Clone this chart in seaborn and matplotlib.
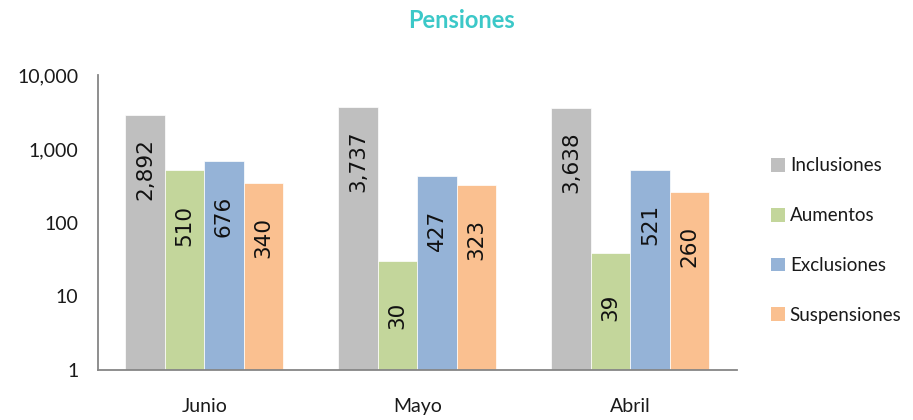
import pandas as pd
import numpy as np
import matplotlib
matplotlib.use('Agg')
import matplotlib.pyplot as plt
import seaborn as sns
from matplotlib.ticker import FuncFormatter, FixedLocator, NullLocator

# Data
meses = ['Junio', 'Mayo', 'Abril']
series = ['Inclusiones', 'Aumentos', 'Exclusiones', 'Suspensiones']
inclusiones = [2892, 3737, 3638]
aumentos = [510, 30, 39]
exclusiones = [676, 427, 521]
suspensiones = [340, 323, 260]
y_ticks = [1, 10, 100, 1000, 10000]

colores = ['#BFBFBF', '#C3D69B', '#95B3D7', '#FAC090']

df = pd.DataFrame({
    'mes': np.repeat(meses, len(series)),
    'tipo': series * len(meses),
    'valor': np.array([inclusiones, aumentos, exclusiones, suspensiones]).T.ravel(),
})

sns.set_style('white')
plt.rcParams['font.family'] = ['Lato', 'DejaVu Sans']

fig = plt.figure(figsize=(9.13, 4.2), dpi=100)
ax = fig.add_axes([0.107, 0.119, 0.700, 0.702])

sns.barplot(data=df, x='mes', y='valor', hue='tipo', order=meses, hue_order=series,
            palette=colores, saturation=1, width=0.74, ax=ax, legend=False,
            edgecolor='white', linewidth=0.5)

ax.set_yscale('log')
ax.set_ylim(1, 10000)
ax.yaxis.set_major_locator(FixedLocator(y_ticks))
ax.yaxis.set_minor_locator(NullLocator())
ax.yaxis.set_major_formatter(FuncFormatter(lambda v, i: f'{v:,.0f}'))
ax.set_xlim(-0.5, 2.5)

ax.set_xlabel('')
ax.set_ylabel('')
ax.tick_params(axis='y', length=0, pad=14, labelsize=14, labelcolor='#1a1a1a')
ax.tick_params(axis='x', length=0, pad=20, labelsize=14, labelcolor='#1a1a1a')

ax.spines[['top', 'right']].set_visible(False)
for s in ['left', 'bottom']:
    ax.spines[s].set_color('#868686')
    ax.spines[s].set_linewidth(1.3)

# Value labels, rotated, a bit below the top of each bar
for cont in ax.containers:
    for rect in cont:
        h = rect.get_height()
        ax.text(rect.get_x() + rect.get_width() / 2, h / 5.5, f'{h:,.0f}',
                rotation=90, ha='center', va='center', fontsize=15.5,
                family='DejaVu Sans', color='#111111')

# Legend
handles = [plt.Rectangle((0, 0), 1, 1, facecolor=c, edgecolor='none') for c in colores]
fig.legend(handles, series, loc='center left', bbox_to_anchor=(0.826, 0.427),
           frameon=False, fontsize=13.5, handlelength=0.75, handleheight=0.75,
           handletextpad=0.25, labelspacing=1.75, labelcolor='#1a1a1a')

fig.text(0.505, 0.952, 'Pensiones', ha='center', va='center', fontsize=17,
         weight='bold', color='#3CC8C8')

fig.savefig('out.png', dpi=100, facecolor='white')
